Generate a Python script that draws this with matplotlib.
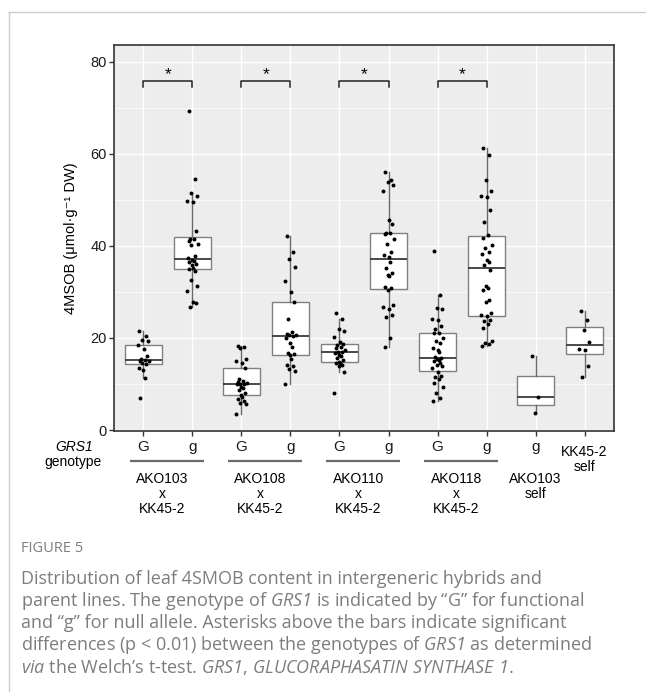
import numpy as np
import matplotlib
matplotlib.use('Agg')
import matplotlib.pyplot as plt
from matplotlib.lines import Line2D
from matplotlib.transforms import blended_transform_factory

plt.rcParams['font.family'] = ['Liberation Sans', 'DejaVu Sans']
# math text is only used for the italic words of the caption
plt.rcParams['mathtext.fontset'] = 'custom'
plt.rcParams['mathtext.rm'] = 'Open Sans:italic'
plt.rcParams['mathtext.it'] = 'Open Sans:italic'

# 4MSOB content (umol/g DW)
ako103_G = [21.6, 20.5, 19.6, 19.3, 18.5, 17.5, 16.0, 15.5, 15.3, 15.1, 14.9, 14.6,
            14.4, 13.5, 13.1, 11.2, 6.9]
ako103_g = [69.4, 54.6, 51.4, 50.9, 49.8, 49.5, 43.2, 41.6, 41.5, 41.0, 40.5, 40.3,
            37.9, 37.3, 37.0, 36.8, 36.4, 36.1, 35.9, 35.2, 35.0, 34.5, 32.6, 31.3,
            30.3, 27.9, 27.6, 26.7]
ako108_G = [18.3, 18.0, 17.8, 15.4, 15.1, 14.5, 13.4, 11.0, 10.7, 10.5, 10.2, 10.1,
            10.0, 9.9, 9.4, 9.1, 8.6, 8.1, 7.6, 7.1, 6.7, 6.2, 5.8, 5.7, 3.4]
ako108_g = [42.2, 38.7, 37.1, 35.5, 32.4, 29.9, 27.8, 24.1, 21.2, 20.9, 20.7, 20.6,
            20.5, 20.0, 19.0, 18.0, 16.7, 16.5, 16.3, 15.4, 14.1, 13.8, 13.2, 12.9, 10.0]
ako110_G = [25.4, 24.2, 21.9, 21.6, 20.2, 19.2, 18.7, 18.5, 18.1, 17.8, 17.4, 17.0,
            16.9, 16.7, 16.3, 16.0, 15.6, 15.2, 14.7, 14.6, 14.5, 14.1, 13.8, 12.7, 8.0]
ako110_g = [56.0, 54.3, 53.8, 53.3, 51.9, 45.7, 44.8, 42.9, 42.8, 42.5, 41.5, 40.5,
            38.6, 38.1, 37.6, 36.6, 35.2, 34.1, 33.7, 33.4, 31.0, 30.8, 30.5, 27.2,
            26.8, 26.3, 24.9, 24.5, 20.0, 18.0]
ako118_G = [38.8, 29.4, 26.5, 26.3, 24.1, 23.8, 22.5, 21.9, 21.1, 21.0, 20.0, 19.4,
            19.0, 17.8, 17.4, 17.0, 15.8, 15.6, 15.4, 15.2, 14.9, 14.5, 14.1, 13.8,
            13.4, 12.7, 11.8, 11.5, 11.0, 10.3, 9.4, 8.1, 6.9, 6.2]
ako118_g = [61.3, 59.7, 54.4, 51.9, 50.8, 50.6, 47.9, 45.3, 42.4, 41.7, 40.3, 39.5,
            38.6, 38.3, 37.0, 36.4, 35.8, 34.8, 31.2, 30.8, 30.5, 28.3, 27.9, 25.4,
            25.0, 24.7, 23.9, 23.6, 23.1, 22.1, 19.4, 19.0, 18.7, 18.3]
ako103_self = [16.1, 7.2, 3.8]
kk45_self = [25.8, 23.9, 21.8, 19.2, 17.6, 17.4, 13.9, 11.5]

groups = [ako103_G, ako103_g, ako108_G, ako108_g, ako110_G, ako110_g,
          ako118_G, ako118_g, ako103_self, kk45_self]
genotypes = ['G', 'g', 'G', 'g', 'G', 'g', 'G', 'g', 'g', '']
crosses = ['AKO103', 'AKO108', 'AKO110', 'AKO118']
sig_pairs = [(1, 2), (3, 4), (5, 6), (7, 8)]
sig_marks = ['*', '*', '*', '*']

# fixed horizontal jitter pattern for the dots
jit = [-0.08, 0.05, -0.02, 0.09, -0.11, 0.01, 0.07, -0.05, 0.03, -0.07,
       0.11, -0.03, 0.06, -0.09, 0.0, 0.04, -0.06, 0.08, -0.01, 0.02]

W, H = 646, 692
fig = plt.figure(figsize=(W / 100, H / 100), dpi=100)

def fx(p):
    return p / W

def fy(p):
    return 1 - p / H

# light card frame
fig.add_artist(Line2D([fx(9), fx(9)], [fy(11.5), 0], color='#cccccc', lw=1.0))
fig.add_artist(Line2D([fx(9), 1], [fy(11.5), fy(11.5)], color='#cccccc', lw=1.0))

ax = fig.add_axes([fx(114), fy(430.7), (614 - 114) / W, (430.7 - 45) / H])
ax.set_facecolor('#ededed')

pos = np.arange(1, len(groups) + 1)
ax.boxplot(groups, positions=pos, widths=0.76, showfliers=False, showcaps=False,
           patch_artist=True,
           boxprops=dict(facecolor='white', edgecolor='#808080', linewidth=1.0),
           medianprops=dict(color='#3a3a3a', linewidth=1.3),
           whiskerprops=dict(color='#6a6a6a', linewidth=1.0), zorder=2)

for p, vals in zip(pos, groups):
    xs = [p + jit[i % len(jit)] for i in range(len(vals))]
    ax.scatter(xs, vals, s=8, color='black', linewidths=0, zorder=3)

for (a, b), m in zip(sig_pairs, sig_marks):
    ax.plot([a, a, b, b], [74.6, 75.9, 75.9, 74.6], color='#222222', lw=1.1)
    ax.text((a + b) / 2, 76.2, m, ha='center', va='baseline', fontsize=12.5)

ax.set_xlim(0.4, 10.6)
ax.set_ylim(-0.15, 83.65)
ax.set_yticks([0, 20, 40, 60, 80])
ax.set_yticks([10, 30, 50, 70], minor=True)
ax.set_xticks(pos)
ax.set_xticklabels(genotypes)
ax.grid(which='major', color='white', lw=1.0)
ax.grid(which='minor', axis='y', color='white', lw=0.5)
ax.set_axisbelow(True)
for s in ax.spines.values():
    s.set_color('#333333')
    s.set_linewidth(1.2)
ax.tick_params(length=3.5, width=1, color='#333333', labelsize=10.5, labelcolor='#1a1a1a')
ax.tick_params(which='minor', length=0)
ax.tick_params(axis='x', pad=3.5, labelsize=11)
ax.tick_params(axis='y', pad=1.5)

ax.set_ylabel('4MSOB (μmol·g⁻¹ DW)', fontsize=10.5, va='center')
ax.yaxis.set_label_coords((70.5 - 114) / 500, 0.5)

# labels under the axis
tr = blended_transform_factory(ax.transData, fig.transFigure)
for k, name in enumerate(crosses):
    a, b = sig_pairs[k]
    ax.plot([a - 0.27, b + 0.24], [fy(460.7)] * 2, transform=tr, color='#6b6b6b',
            lw=1.6, clip_on=False, solid_capstyle='butt')
    for j, line in enumerate([name, 'x', 'KK45-2']):
        ax.text((a + b) / 2 - 0.12, fy(479 + 15 * j), line, transform=tr,
                ha='center', va='center', fontsize=10, clip_on=False)
for j, line in enumerate(['AKO103', 'self']):
    ax.text(9, fy(479 + 15 * j), line, transform=tr, ha='center', va='center',
            fontsize=10, clip_on=False)
for j, line in enumerate(['KK45-2', 'self']):
    ax.text(10, fy(452 + 15 * j), line, transform=tr, ha='center', va='center',
            fontsize=10, clip_on=False)
fig.text(fx(74), fy(447), 'GRS1', style='italic', ha='center', va='center', fontsize=10)
fig.text(fx(73), fy(462), 'genotype', ha='center', va='center', fontsize=10)

# caption
cap_color = '#7d7d7d'
fig.text(fx(21), fy(549), 'FIGURE 5', family='Open Sans', fontsize=10.5,
         color=cap_color, va='center')
caption = [
    'Distribution of leaf 4SMOB content in intergeneric hybrids and',
    r'parent lines. The genotype of $\mathrm{GRS1}$ is indicated by “G” for functional',
    'and “g” for null allele. Asterisks above the bars indicate significant',
    r'differences (p < 0.01) between the genotypes of $\mathrm{GRS1}$ as determined',
    r'$\mathrm{via}$ the Welch’s t-test. $\mathrm{GRS1}$, $\mathrm{GLUCORAPHASATIN\ SYNTHASE\ 1}$.',
]
for i, line in enumerate(caption):
    fig.text(fx(21), fy(579 + 22 * i), line, family='Open Sans', fontsize=13,
             color=cap_color, va='center')

fig.savefig('out.png', dpi=100)
